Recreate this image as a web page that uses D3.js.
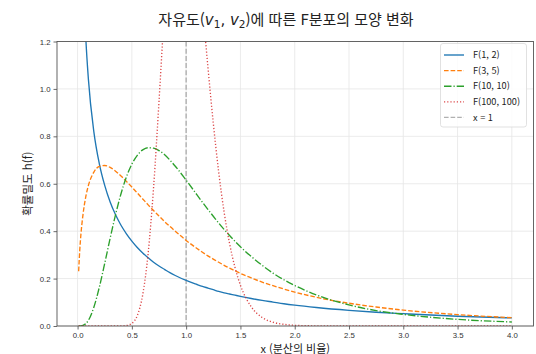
<!DOCTYPE html>
<html lang="ko">
  <head>
    <meta charset="UTF-8" />
    <title>F분포 모양 변화</title>
    <style>
      body {
        margin: 0;
        background: #fff;
      }
      svg {
        display: block;
        font-family: "Noto Sans CJK KR", "Noto Sans", sans-serif;
      }
      .grid line {
        stroke: #e6e6e6;
        stroke-width: 0.8;
      }
      .tick text {
        font-size: 7.8px;
        fill: #333;
      }
    </style>
  </head>
  <body>
    <svg width="536" height="354"></svg>

    <script src="https://d3js.org/d3.v7.min.js"></script>
    <script>
      // x 값 (분산의 비율)
      const xs = [0.01, 0.02, 0.03, 0.05, 0.075, 0.1, 0.15, 0.2, 0.25, 0.3, 0.35, 0.4, 0.45, 0.5, 0.55, 0.6, 0.65, 0.7, 0.75, 0.8, 0.85, 0.9, 1.0, 1.1, 1.15, 1.2, 1.25, 1.3, 1.35, 1.4, 1.45, 1.5, 1.6, 1.7, 1.8, 1.9, 2.0, 2.2, 2.5, 2.75, 3.0, 3.5, 4.0];

      // 각 분포의 밀도값
      const f1_2 = [3.509, 2.463, 1.996, 1.524, 1.222, 1.039, 0.819, 0.685, 0.593, 0.523, 0.469, 0.425, 0.389, 0.358, 0.331, 0.308, 0.288, 0.269, 0.253, 0.239, 0.225, 0.213, 0.192, 0.175, 0.167, 0.16, 0.153, 0.146, 0.14, 0.135, 0.13, 0.125, 0.116, 0.108, 0.101, 0.094, 0.088, 0.078, 0.066, 0.058, 0.052, 0.041, 0.034];
      const f3_5 = [0.231, 0.319, 0.382, 0.47, 0.544, 0.593, 0.649, 0.673, 0.677, 0.669, 0.653, 0.633, 0.61, 0.586, 0.561, 0.536, 0.511, 0.487, 0.464, 0.441, 0.42, 0.4, 0.361, 0.327, 0.311, 0.296, 0.282, 0.269, 0.256, 0.244, 0.233, 0.222, 0.203, 0.185, 0.17, 0.156, 0.143, 0.121, 0.096, 0.08, 0.067, 0.048, 0.035];
      const f10_10 = [0, 0.0001, 0.0004, 0.0024, 0.0097, 0.024, 0.079, 0.163, 0.264, 0.37, 0.47, 0.558, 0.629, 0.683, 0.72, 0.743, 0.752, 0.75, 0.74, 0.723, 0.7, 0.674, 0.615, 0.553, 0.522, 0.492, 0.463, 0.434, 0.407, 0.382, 0.357, 0.334, 0.293, 0.256, 0.223, 0.195, 0.171, 0.131, 0.089, 0.065, 0.049, 0.028, 0.017];
      const f100_100 = [0, 0, 0, 0, 0, 0, 0, 0, 0, 0, 0, 0.0002, 0.0019, 0.011, 0.044, 0.132, 0.306, 0.584, 0.947, 1.336, 1.684, 1.925, 1.99, 1.614, 1.355, 1.095, 0.856, 0.649, 0.48, 0.348, 0.247, 0.172, 0.081, 0.036, 0.016, 0.007, 0.003, 0.0005, 0, 0, 0, 0, 0];

      const xTicks = [0, 0.5, 1, 1.5, 2, 2.5, 3, 3.5, 4];
      const yTicks = [0, 0.2, 0.4, 0.6, 0.8, 1.0, 1.2];

      const series = [
        { label: "F(1, 2)", values: f1_2, color: "#1f77b4", dash: null, opacity: 1 },
        { label: "F(3, 5)", values: f3_5, color: "#ff7f0e", dash: "4.6,2", opacity: 1 },
        { label: "F(10, 10)", values: f10_10, color: "#2ca02c", dash: "7.5,2,1.2,2", opacity: 1 },
        { label: "F(100, 100)", values: f100_100, color: "#d62728", dash: "1.2,2", opacity: 0.85 },
      ];

      const svg = d3.select("svg");
      const pL = 57, pR = 533.5, pT = 41.5, pB = 326;

      const x = d3.scaleLinear().domain([0.01 - 0.1995, 4 + 0.1995]).range([pL, pR]);
      const y = d3.scaleLinear().domain([0, 1.2]).range([pB, pT]);

      // 클립 영역
      svg.append("clipPath").attr("id", "plot")
        .append("rect")
        .attr("x", pL).attr("y", pT)
        .attr("width", pR - pL).attr("height", pB - pT);

      // 그리드
      svg.append("g").attr("class", "grid")
        .selectAll("line").data(xTicks).join("line")
        .attr("x1", (d) => x(d)).attr("x2", (d) => x(d))
        .attr("y1", pT).attr("y2", pB);
      svg.append("g").attr("class", "grid")
        .selectAll("line").data(yTicks).join("line")
        .attr("x1", pL).attr("x2", pR)
        .attr("y1", (d) => y(d)).attr("y2", (d) => y(d));

      // x = 1 기준선
      svg.append("line")
        .attr("x1", x(1)).attr("x2", x(1))
        .attr("y1", pT).attr("y2", pB)
        .attr("stroke", "#b0b0b0")
        .attr("stroke-width", 1.4)
        .attr("stroke-dasharray", "5,2.2");

      // 곡선
      const line = d3.line()
        .x((d, i) => x(xs[i]))
        .y((d) => y(d))
        .curve(d3.curveMonotoneX);

      svg.append("g").attr("clip-path", "url(#plot)")
        .selectAll("path").data(series).join("path")
        .attr("d", (s) => line(s.values))
        .attr("fill", "none")
        .attr("stroke", (s) => s.color)
        .attr("stroke-width", 1.35)
        .attr("stroke-opacity", (s) => s.opacity)
        .attr("stroke-dasharray", (s) => s.dash);

      // 축
      const xAxis = svg.append("g")
        .attr("transform", `translate(0,${pB})`)
        .call(d3.axisBottom(x).tickValues(xTicks).tickFormat(d3.format(".1f")).tickSizeOuter(0).tickSize(3.5).tickPadding(2.5));
      const yAxis = svg.append("g")
        .attr("transform", `translate(${pL},0)`)
        .call(d3.axisLeft(y).tickValues(yTicks).tickFormat(d3.format(".1f")).tickSizeOuter(0).tickSize(3.5).tickPadding(3));
      [xAxis, yAxis].forEach((a) => {
        a.select(".domain").remove();
        a.selectAll(".tick line").attr("stroke", "#444").attr("stroke-width", 0.8);
      });

      // 테두리
      svg.append("rect")
        .attr("x", pL).attr("y", pT)
        .attr("width", pR - pL).attr("height", pB - pT)
        .attr("fill", "none")
        .attr("stroke", "#555")
        .attr("stroke-width", 0.9);

      // 제목
      const title = svg.append("text")
        .attr("x", 286).attr("y", 25)
        .attr("text-anchor", "middle")
        .attr("font-size", 15)
        .attr("fill", "#222");
      title.append("tspan").text("자유도(");
      title.append("tspan").attr("font-family", "DejaVu Sans").attr("font-style", "italic").text("v");
      title.append("tspan").attr("font-family", "DejaVu Sans").attr("font-size", 10.5).attr("dy", 3).text("1");
      title.append("tspan").attr("font-family", "DejaVu Sans").attr("dy", -3).text(", ");
      title.append("tspan").attr("font-family", "DejaVu Sans").attr("font-style", "italic").text("v");
      title.append("tspan").attr("font-family", "DejaVu Sans").attr("font-size", 10.5).attr("dy", 3).text("2");
      title.append("tspan").attr("dy", -3).text(")에 따른 F분포의 모양 변화");

      // 축 제목
      svg.append("text")
        .attr("x", (pL + pR) / 2).attr("y", 352.5)
        .attr("text-anchor", "middle")
        .attr("font-size", 11)
        .attr("fill", "#222")
        .text("x (분산의 비율)");
      svg.append("text")
        .attr("transform", `translate(32,${(pT + pB) / 2}) rotate(-90)`)
        .attr("text-anchor", "middle")
        .attr("font-size", 11.5)
        .attr("fill", "#222")
        .text("확률밀도 h(f)");

      // 범례
      const legendItems = series.concat([{ label: "x = 1", color: "#b0b0b0", dash: "4.6,2", opacity: 1 }]);
      const legend = svg.append("g");
      legend.append("rect")
        .attr("x", 440.5).attr("y", 43.5)
        .attr("width", 86).attr("height", 83.5)
        .attr("rx", 2.5)
        .attr("fill", "#fff")
        .attr("fill-opacity", 0.85)
        .attr("stroke", "#d9d9d9")
        .attr("stroke-width", 0.8);
      const row = legend.selectAll("g.row").data(legendItems).join("g")
        .attr("class", "row")
        .attr("transform", (d, i) => `translate(444,${55 + i * 15.6})`);
      row.append("line")
        .attr("x1", 0).attr("x2", 20)
        .attr("stroke", (d) => d.color)
        .attr("stroke-width", 1.35)
        .attr("stroke-opacity", (d) => d.opacity)
        .attr("stroke-dasharray", (d) => d.dash);
      row.append("text")
        .attr("x", 29).attr("y", 3.2)
        .attr("font-size", 9.2)
        .attr("fill", "#222")
        .text((d) => d.label);
    </script>
  </body>
</html>
